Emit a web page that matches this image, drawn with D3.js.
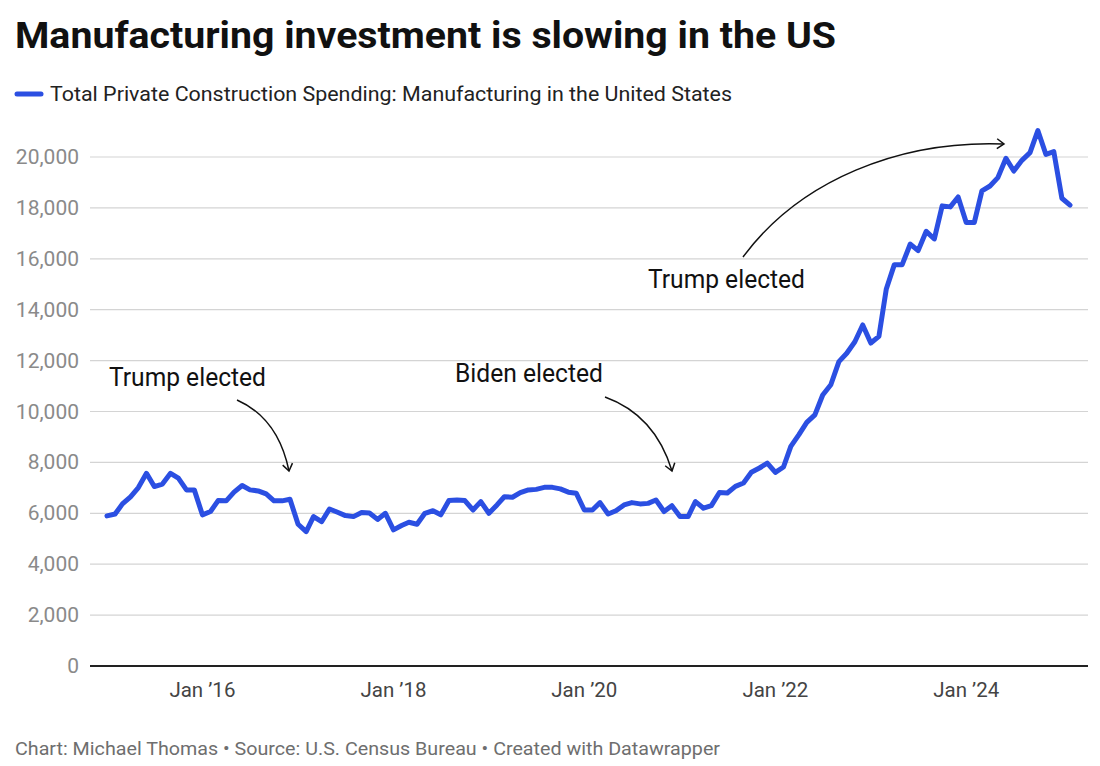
<!DOCTYPE html>
<html>
<head>
<meta charset="utf-8">
<script src="https://cdn.jsdelivr.net/npm/d3@7"></script>
<style>
  body { margin: 0; background: #fff; font-family: Roboto, "Noto Sans", sans-serif; }
  svg text { font-family: Roboto, "Noto Sans", sans-serif; }
</style>
</head>
<body>
<div id="chart"></div>
<script>
// data //
const title = 'Manufacturing investment is slowing in the US'
const seriesName = 'Total Private Construction Spending: Manufacturing in the United States'
const footer = 'Chart: Michael Thomas \u2022 Source: U.S. Census Bureau \u2022 Created with Datawrapper'

// monthly, Jan 2015 .. Feb 2025 (millions of dollars)
const firstMonth = new Date(2015, 0, 1)
const spending = [
  5900, 5970, 6370, 6650, 7010, 7570, 7050, 7150, 7570, 7380, 6920, 6920,
  5940, 6070, 6500, 6490, 6830, 7090, 6920, 6880, 6760, 6490, 6490, 6550,
  5570, 5280, 5870, 5670, 6170, 6040, 5910, 5870, 6030, 6010, 5760, 6000,
  5350, 5520, 5650, 5570, 6000, 6100, 5940, 6500, 6520, 6500, 6130, 6460,
  6000, 6330, 6650, 6630, 6810, 6920, 6940, 7020, 7020, 6960, 6830, 6790,
  6130, 6130, 6420, 5970, 6100, 6330, 6420, 6370, 6390, 6520, 6070, 6300,
  5870, 5870, 6460, 6200, 6300, 6820, 6800, 7060, 7190, 7610, 7780, 7970,
  7610, 7820, 8630, 9090, 9570, 9870, 10650, 11050, 11960, 12290, 12740, 13400,
  12690, 12950, 14800, 15770, 15770, 16580, 16320, 17080, 16780, 18080, 18040, 18430,
  17430, 17430, 18670, 18860, 19190, 19950, 19450, 19870, 20170, 21040, 20100, 20210,
  18380, 18110
]
const yTicks = [0, 2000, 4000, 6000, 8000, 10000, 12000, 14000, 16000, 18000, 20000]
const xTicks = [new Date(2016, 0, 1), new Date(2018, 0, 1), new Date(2020, 0, 1), new Date(2022, 0, 1), new Date(2024, 0, 1)]

const data = spending.map((v, i) => ({ date: d3.timeMonth.offset(firstMonth, i), value: v }))

// annotations (label position + arrow path, in pixels)
const notes = [
  { text: 'Trump elected', x: 109, y: 386, w: 157, arrow: 'M237,400 Q278,418 289,471' },
  { text: 'Biden elected', x: 455, y: 382, w: 148, arrow: 'M605,397 Q655,415 672,471' },
  { text: 'Trump elected', x: 648, y: 288, w: 157, arrow: 'M743,257 C800,180 900,140 1004,144' }
]

// svg //
const width = 1100
const height = 766
const plot = { left: 90, right: 1088, top: 157, bottom: 666 }
const lineColor = '#2b4fe2'

const svg = d3.select('#chart').append('svg')
  .attr('width', width)
  .attr('height', height)

const x = d3.scaleTime()
  .domain(d3.extent(data, d => d.date))
  .range([107, 1070])

const y = d3.scaleLinear()
  .domain([0, 20000])
  .range([plot.bottom, plot.top])

// header
svg.append('text')
  .attr('x', 15)
  .attr('y', 48)
  .attr('font-size', 36)
  .attr('font-weight', 700)
  .attr('fill', '#111')
  .attr('textLength', 821)
  .attr('lengthAdjust', 'spacingAndGlyphs')
  .text(title)

svg.append('line')
  .attr('x1', 17).attr('x2', 41)
  .attr('y1', 94).attr('y2', 94)
  .attr('stroke', lineColor)
  .attr('stroke-width', 5)
  .attr('stroke-linecap', 'round')

svg.append('text')
  .attr('x', 50)
  .attr('y', 101)
  .attr('font-size', 20.5)
  .attr('fill', '#222')
  .attr('textLength', 682)
  .attr('lengthAdjust', 'spacingAndGlyphs')
  .text(seriesName)

// grid + y axis
const grid = svg.append('g')
grid.selectAll('line')
  .data(yTicks)
  .enter()
  .append('line')
  .attr('x1', plot.left)
  .attr('x2', plot.right)
  .attr('y1', d => y(d))
  .attr('y2', d => y(d))
  .attr('stroke', d => d === 0 ? '#222' : '#d4d4d4')
  .attr('stroke-width', d => d === 0 ? 2 : 1.2)

grid.selectAll('text')
  .data(yTicks)
  .enter()
  .append('text')
  .attr('x', 79)
  .attr('y', d => y(d) + 7)
  .attr('text-anchor', 'end')
  .attr('font-size', 21)
  .attr('fill', '#8a8a8a')
  .text(d => d3.format(',')(d))

// x axis labels
const fmt = d3.timeFormat('%y')
svg.append('g')
  .selectAll('text')
  .data(xTicks)
  .enter()
  .append('text')
  .attr('x', d => x(d))
  .attr('y', 697)
  .attr('text-anchor', 'middle')
  .attr('font-size', 21)
  .attr('fill', '#444')
  .attr('textLength', 66)
  .attr('lengthAdjust', 'spacingAndGlyphs')
  .text(d => 'Jan \u2019' + fmt(d))

// line
const line = d3.line()
  .x(d => x(d.date))
  .y(d => y(d.value))

svg.append('path')
  .datum(data)
  .attr('d', line)
  .attr('fill', 'none')
  .attr('stroke', lineColor)
  .attr('stroke-width', 5)
  .attr('stroke-linejoin', 'round')
  .attr('stroke-linecap', 'round')

// annotations
svg.append('defs').append('marker')
  .attr('id', 'head')
  .attr('viewBox', '0 0 12 12')
  .attr('refX', 10)
  .attr('refY', 6)
  .attr('markerWidth', 12)
  .attr('markerHeight', 12)
  .attr('markerUnits', 'userSpaceOnUse')
  .attr('orient', 'auto')
  .append('path')
  .attr('d', 'M3,1 L10,6 L3,11')
  .attr('fill', 'none')
  .attr('stroke', '#111')
  .attr('stroke-width', 1.5)

const ann = svg.append('g')
ann.selectAll('path')
  .data(notes)
  .enter()
  .append('path')
  .attr('d', d => d.arrow)
  .attr('fill', 'none')
  .attr('stroke', '#111')
  .attr('stroke-width', 1.5)
  .attr('marker-end', 'url(#head)')

ann.selectAll('text')
  .data(notes)
  .enter()
  .append('text')
  .attr('x', d => d.x)
  .attr('y', d => d.y)
  .attr('font-size', 25)
  .attr('fill', '#111')
  .attr('textLength', d => d.w)
  .attr('lengthAdjust', 'spacingAndGlyphs')
  .text(d => d.text)

// footer
svg.append('text')
  .attr('x', 15)
  .attr('y', 755)
  .attr('font-size', 19)
  .attr('fill', '#6e6e6e')
  .attr('textLength', 705)
  .attr('lengthAdjust', 'spacingAndGlyphs')
  .text(footer)
</script>
</body>
</html>
